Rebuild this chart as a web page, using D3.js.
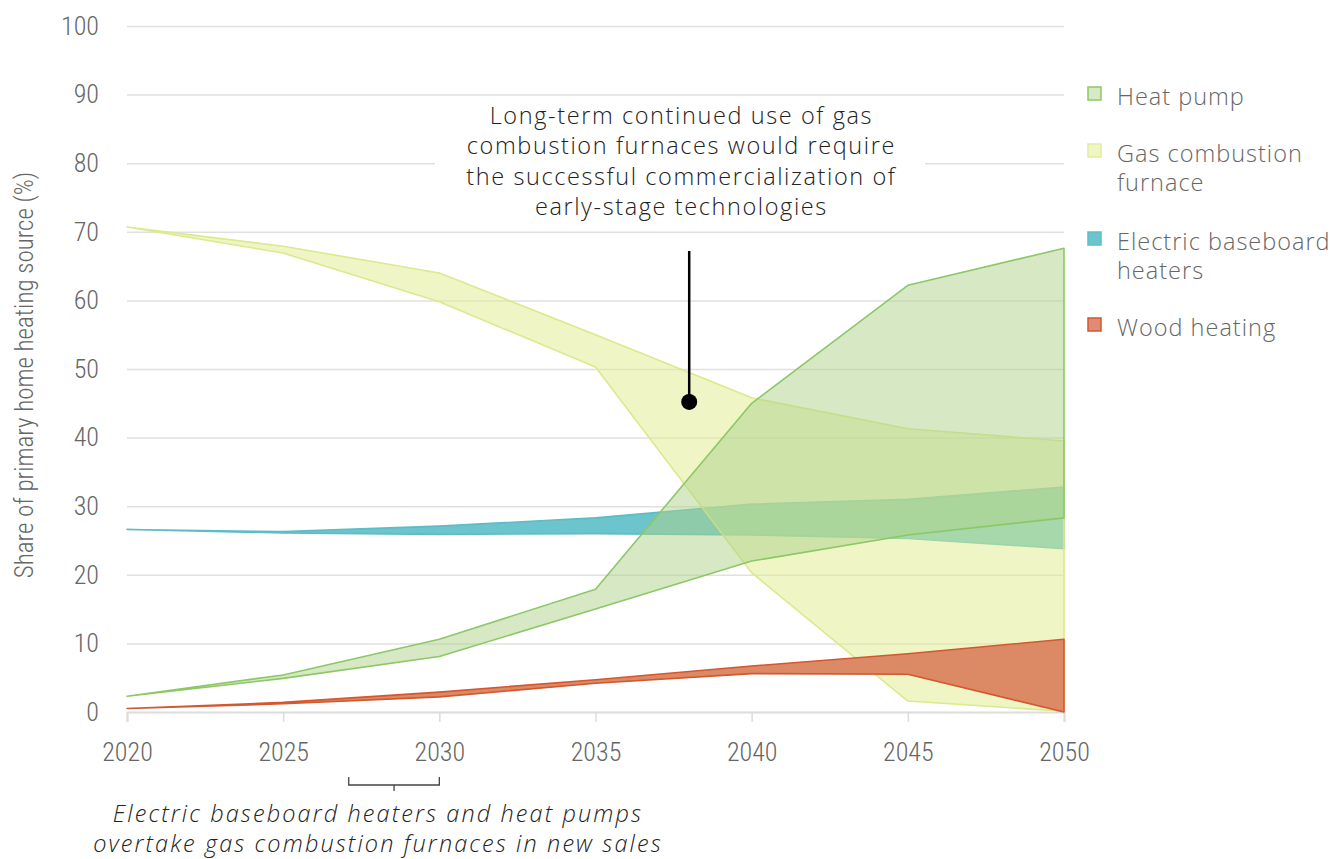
<!DOCTYPE html>
<html><head><meta charset="utf-8">
<script src="https://cdn.jsdelivr.net/npm/d3@7"></script>
<style>
body{margin:0;background:#fff;}
.cond{font-family:"Roboto Condensed","Liberation Sans Narrow","DejaVu Sans Condensed",sans-serif;font-stretch:condensed;font-weight:300;}
.sans{font-family:"Open Sans","Noto Sans",sans-serif;}
</style></head>
<body>
<svg id="c" width="1341" height="859"></svg>
<script>
const years = [2020, 2025, 2030, 2035, 2040, 2045, 2050];
const heatPumpLow  = [2.3, 4.9, 8.1, 15.0, 22.0, 25.8, 28.3];
const heatPumpHigh = [2.3, 5.4, 10.6, 17.9, 45.0, 62.2, 67.6];
const gasLow  = [70.7, 66.9, 59.8, 50.3, 20.3, 1.6, 0.1];
const gasHigh = [70.7, 67.9, 64.0, 55.0, 45.8, 41.3, 39.5];
const electricLow  = [26.6, 26.1, 25.9, 26.0, 25.8, 25.3, 23.8];
const electricHigh = [26.6, 26.3, 27.1, 28.3, 30.3, 31.0, 32.8];
const woodLow  = [0.5, 1.2, 2.2, 4.2, 5.6, 5.5, 0.0];
const woodHigh = [0.5, 1.4, 2.9, 4.7, 6.7, 8.5, 10.6];
const yTicks = [0, 10, 20, 30, 40, 50, 60, 70, 80, 90, 100];
const xTicks = [2020, 2025, 2030, 2035, 2040, 2045, 2050];
const legendLabels = [["Heat pump"], ["Gas combustion", "furnace"], ["Electric baseboard", "heaters"], ["Wood heating"]];
const topNote = ["Long-term continued use of gas", "combustion furnaces would require", "the successful commercialization of", "early-stage technologies"];
const bottomNote = ["Electric baseboard heaters and heat pumps", "overtake gas combustion furnaces in new sales"];
const notePoint = {year: 2038, value: 45.2, top: 67.2, textYear: 2037.75};
const bracket = {from: 2027.1, to: 2030};

const svg = d3.select("#c");
const x = d3.scaleLinear().domain([2020, 2050]).range([127, 1064]);
const y = d3.scaleLinear().domain([0, 100]).range([712, 26]);

// gridlines
const grid = svg.append("g").attr("transform", `translate(${x(2020)},0)`)
  .call(d3.axisLeft(y).tickValues(yTicks.filter(d => d > 0)).tickSize(-(x(2050) - x(2020))).tickFormat(""));
grid.select(".domain").remove();
grid.selectAll("line").attr("stroke", "#e0e0e0").attr("stroke-width", 1.5);

// white box behind top note
svg.append("rect").attr("x", 435).attr("y", 101).attr("width", 490).attr("height", 120).attr("fill", "#fff");

// y axis labels
const ya = svg.append("g").attr("transform", `translate(${x(2020)},0)`)
  .call(d3.axisLeft(y).tickValues(yTicks).tickSize(0).tickPadding(28));
ya.select(".domain").remove();
ya.selectAll("text").attr("class", "cond").attr("font-size", 26).attr("fill", "#666");

// x axis
const xa = svg.append("g").attr("transform", `translate(0,${y(0)})`)
  .call(d3.axisBottom(x).tickValues(xTicks).tickFormat(d3.format("d")).tickSize(10).tickPadding(21));
xa.select(".domain").attr("stroke", "#dcdcdc").attr("stroke-width", 2);
xa.selectAll("line").attr("stroke", "#dcdcdc").attr("stroke-width", 1.5);
xa.selectAll("text").attr("class", "cond").attr("font-size", 26).attr("fill", "#666");

// y title
svg.append("text").attr("class", "cond").attr("font-size", 25).attr("fill", "#666")
  .attr("text-anchor", "middle").attr("transform", "translate(33,375) rotate(-90)")
  .text("Share of primary home heating source (%)");

function band(lo, hi) {
  return years.map((yr, i) => ({yr, lo: lo[i], hi: hi[i]}));
}
const area = d3.area().x(d => x(d.yr)).y0(d => y(d.lo)).y1(d => y(d.hi));
const series = [
  {data: band(electricLow, electricHigh), fill: "#6cc4cc", op: 1, stroke: "#5dbcc5"},
  {data: band(gasLow, gasHigh), fill: "#dfeb8b", op: 0.5, stroke: "#dce98c"},
  {data: band(heatPumpLow, heatPumpHigh), fill: "#add189", op: 0.5, stroke: "#8cc866"},
  {data: band(woodLow, woodHigh), fill: "#dc8a66", op: 1, stroke: "#d4572e"}
];
series.forEach(s => {
  svg.append("path").datum(s.data).attr("d", area)
    .attr("fill", s.fill).attr("fill-opacity", s.op)
    .attr("stroke", s.stroke).attr("stroke-width", 1.6).attr("stroke-linejoin", "round");
});

// legend
const legendStyle = [
  {fill: "#d7e9c5", stroke: "#8cc866", y: 93},
  {fill: "#eff5c5", stroke: "#e2ee9a", y: 150},
  {fill: "#6cc4cc", stroke: "#5dbfc8", y: 238},
  {fill: "#e08c74", stroke: "#d4572e", y: 324}
];
legendLabels.forEach((lines, i) => {
  const st = legendStyle[i];
  svg.append("rect").attr("x", 1088).attr("y", st.y - 6).attr("width", 13).attr("height", 13)
    .attr("fill", st.fill).attr("stroke", st.stroke).attr("stroke-width", 1.5);
  const t = svg.append("text").attr("class", "sans").attr("font-size", 23.5).attr("font-weight", 300)
    .attr("letter-spacing", 1.0).attr("fill", "#666").attr("x", 1117).attr("y", st.y + 12);
  lines.forEach((l, j) => t.append("tspan").attr("x", 1117).attr("dy", j ? 29 : 0).text(l));
});

// top note
const tn = svg.append("text").attr("class", "sans").attr("font-size", 23.5).attr("font-weight", 300)
  .attr("letter-spacing", 1.6).attr("fill", "#222").attr("text-anchor", "middle");
topNote.forEach((l, j) => tn.append("tspan").attr("x", x(notePoint.textYear)).attr("y", 124 + j * 30.3).text(l));
svg.append("line").attr("x1", x(notePoint.year)).attr("x2", x(notePoint.year))
  .attr("y1", y(notePoint.top)).attr("y2", y(notePoint.value))
  .attr("stroke", "#000").attr("stroke-width", 2.5);
svg.append("circle").attr("cx", x(notePoint.year)).attr("cy", y(notePoint.value)).attr("r", 8).attr("fill", "#000");

// bottom bracket
const bx0 = x(bracket.from), bx1 = x(bracket.to), bm = (bx0 + bx1) / 2;
svg.append("path").attr("d", `M${bx0},777 L${bx0},785 L${bx1},785 L${bx1},777 M${bm},785 L${bm},791`)
  .attr("fill", "none").attr("stroke", "#444").attr("stroke-width", 1.3);
const bn = svg.append("text").attr("class", "sans").attr("font-size", 23.5).attr("font-weight", 300)
  .attr("letter-spacing", 2.1).attr("font-style", "italic").attr("fill", "#222").attr("text-anchor", "middle");
bottomNote.forEach((l, j) => bn.append("tspan").attr("x", 378).attr("y", 822 + j * 30).text(l));
</script>
</body></html>
